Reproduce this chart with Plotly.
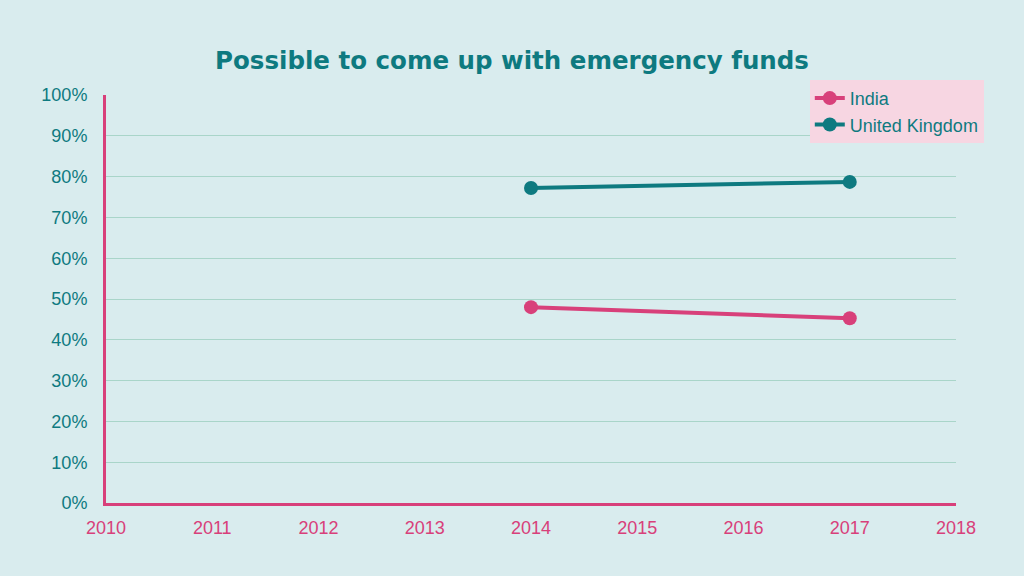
import plotly.graph_objects as go

years = [2014, 2017]
india = [48.0, 45.3]
uk = [77.2, 78.7]
x_ticks = list(range(2010, 2019))
y_ticks = list(range(0, 101, 10))
y_labels = [f"{v}%" for v in y_ticks]

bg = "#d9ecee"
pink = "#d8407a"
teal = "#0e7a80"
font_fam = "Liberation Sans, Arial, sans-serif"

fig = go.Figure()
fig.add_trace(go.Scatter(x=years, y=india, name="India", mode="lines+markers",
                         line=dict(color=pink, width=4), marker=dict(size=14, color=pink)))
fig.add_trace(go.Scatter(x=years, y=uk, name="United Kingdom", mode="lines+markers",
                         line=dict(color=teal, width=4), marker=dict(size=14, color=teal)))

fig.update_layout(
    width=1024, height=576,
    paper_bgcolor=bg, plot_bgcolor=bg,
    margin=dict(l=106, r=68, t=95, b=73),
    title=dict(text="<b>Possible to come up with emergency funds</b>", x=0.5, xanchor="center",
               y=0.895, yanchor="middle",
               font=dict(family="DejaVu Sans, sans-serif", size=24.5, color=teal)),
    legend=dict(x=0.828, y=1.037, xanchor="left", yanchor="top", bgcolor="#f7d6e2",
                font=dict(family=font_fam, size=18, color=teal),
                itemwidth=30, tracegroupgap=2),
    showlegend=True,
)
fig.update_xaxes(range=[2010, 2018], tickvals=x_ticks, ticktext=[str(v) for v in x_ticks],
                 showgrid=False, showline=True, linecolor=pink, linewidth=3,
                 ticks="", ticklabelstandoff=6,
                 tickfont=dict(family=font_fam, size=18, color=pink),
                 zeroline=False)
fig.update_yaxes(range=[0, 100], tickvals=y_ticks, ticktext=y_labels,
                 showgrid=True, gridcolor="#a9d5c9", gridwidth=1,
                 showline=True, linecolor=pink, linewidth=3, ticks="", ticklabelstandoff=12,
                 tickfont=dict(family=font_fam, size=18, color=teal),
                 zeroline=False)

fig.write_html("out.html", config={"displayModeBar": False},
               post_script="document.body.style.margin='0';")
